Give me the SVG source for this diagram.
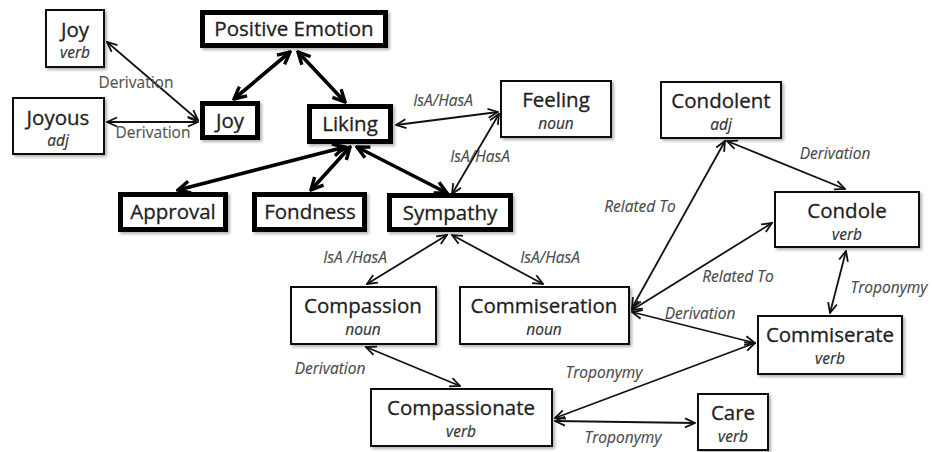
<svg xmlns="http://www.w3.org/2000/svg" width="932" height="452" viewBox="0 0 932 452">
  <style>
    .box { fill: #fff; stroke: #111; stroke-width: 2; filter: url(#shadow); }
    .bold { fill: #fff; stroke: #000; stroke-width: 5; filter: url(#shadow); }
    .name { font-family: "Open Sans", "Liberation Sans", sans-serif; font-size: 20.5px; fill: #1e1e1e; stroke: #1e1e1e; stroke-width: 0.3; text-anchor: middle; }
    .pos { font-family: "Open Sans", "Liberation Sans", sans-serif; font-size: 15.5px; font-style: italic; fill: #333; stroke: #333; stroke-width: 0.2; text-anchor: middle; }
    .rel { font-family: "Open Sans", "Liberation Sans", sans-serif; font-size: 15.5px; font-style: italic; fill: #4a4a4a; stroke: #4a4a4a; stroke-width: 0.15; text-anchor: middle; }
    .rel.up { font-style: normal; fill: #555; }
    .thin { stroke: #111; stroke-width: 1.8; fill: none; marker-start: url(#tip); marker-end: url(#tip); }
    .thick { stroke: #000; stroke-width: 3.6; fill: none; marker-start: url(#tipBold); marker-end: url(#tipBold); }
  </style>
  <defs>
    <filter id="shadow" x="-10%" y="-10%" width="125%" height="130%">
      <feDropShadow dx="2" dy="2" stdDeviation="1.5" flood-color="#000" flood-opacity="0.3"/>
    </filter>
    <marker id="tip" viewBox="0 0 12 12" refX="11" refY="6" markerWidth="12" markerHeight="12" markerUnits="userSpaceOnUse" orient="auto-start-reverse">
      <path d="M1,1.5 L11,6 L1,10.5" fill="none" stroke="#111" stroke-width="1.8"/>
    </marker>
    <marker id="tipBold" viewBox="0 0 16 16" refX="14" refY="8" markerWidth="16" markerHeight="16" markerUnits="userSpaceOnUse" orient="auto-start-reverse">
      <path d="M2,2 L14,8 L2,14" fill="none" stroke="#000" stroke-width="3.4" stroke-linejoin="miter"/>
    </marker>
  </defs>

  <rect width="932" height="452" fill="#fff"/>

  <!-- connectors -->
  <g id="connectors">
    <line class="thin" x1="107" y1="42" x2="198" y2="120"/>
    <line class="thin" x1="107" y1="122" x2="198" y2="122"/>
    <line class="thick" x1="290" y1="52" x2="234" y2="99"/>
    <line class="thick" x1="298" y1="52" x2="345" y2="102"/>
    <line class="thick" x1="345" y1="147" x2="178" y2="190"/>
    <line class="thick" x1="350" y1="147" x2="311" y2="190"/>
    <line class="thick" x1="357" y1="147" x2="447" y2="193"/>
    <line class="thin" x1="396" y1="125" x2="498" y2="112"/>
    <line class="thin" x1="499" y1="114" x2="452" y2="194"/>
    <line class="thin" x1="447" y1="235" x2="367" y2="284"/>
    <line class="thin" x1="452" y1="235" x2="543" y2="284"/>
    <line class="thin" x1="366" y1="347" x2="460" y2="386"/>
    <line class="thin" x1="555" y1="418" x2="755" y2="343"/>
    <line class="thin" x1="555" y1="421" x2="695" y2="423"/>
    <line class="thin" x1="632" y1="312" x2="755" y2="343"/>
    <line class="thin" x1="632" y1="310" x2="772" y2="223"/>
    <line class="thin" x1="632" y1="308" x2="725" y2="141"/>
    <line class="thin" x1="727" y1="141" x2="845" y2="189"/>
    <line class="thin" x1="846" y1="251" x2="830" y2="313"/>
  </g>

  <!-- connector labels -->
  <g id="labels">
    <text class="rel up" x="136" y="88">Derivation</text>
    <text class="rel up" x="153" y="138">Derivation</text>
    <text class="rel" x="443" y="106">IsA/HasA</text>
    <text class="rel" x="480" y="162">IsA/HasA</text>
    <text class="rel" x="355" y="263">IsA /HasA</text>
    <text class="rel" x="550" y="263">IsA/HasA</text>
    <text class="rel" x="330" y="374">Derivation</text>
    <text class="rel" x="604" y="378">Troponymy</text>
    <text class="rel" x="623" y="443">Troponymy</text>
    <text class="rel" x="700" y="319">Derivation</text>
    <text class="rel" x="738" y="282">Related To</text>
    <text class="rel" x="640" y="212">Related To</text>
    <text class="rel" x="835" y="159">Derivation</text>
    <text class="rel" x="889" y="293">Troponymy</text>
  </g>

  <!-- nodes -->
  <g id="joy-verb">
    <rect class="box" x="46" y="10" width="58" height="57"/>
    <text class="name" x="75" y="37">Joy</text>
    <text class="pos" x="75" y="58">verb</text>
  </g>
  <g id="joyous-adj">
    <rect class="box" x="13" y="98" width="91" height="56"/>
    <text class="name" x="58" y="125">Joyous</text>
    <text class="pos" x="58" y="146">adj</text>
  </g>
  <g id="positive-emotion">
    <rect class="bold" x="202.5" y="12.5" width="183" height="33"/>
    <text class="name" x="294" y="36">Positive Emotion</text>
  </g>
  <g id="joy">
    <rect class="bold" x="202.5" y="103.5" width="55" height="34"/>
    <text class="name" x="230" y="128">Joy</text>
  </g>
  <g id="liking">
    <rect class="bold" x="309.5" y="106.5" width="81" height="35"/>
    <text class="name" x="350" y="131">Liking</text>
  </g>
  <g id="feeling-noun">
    <rect class="box" x="501" y="81" width="110" height="56"/>
    <text class="name" x="556" y="107">Feeling</text>
    <text class="pos" x="556" y="129">noun</text>
  </g>
  <g id="approval">
    <rect class="bold" x="120.5" y="194.5" width="105" height="35"/>
    <text class="name" x="173" y="219">Approval</text>
  </g>
  <g id="fondness">
    <rect class="bold" x="254.5" y="194.5" width="110" height="35"/>
    <text class="name" x="310" y="219">Fondness</text>
  </g>
  <g id="sympathy">
    <rect class="bold" x="389.5" y="195.5" width="121" height="34"/>
    <text class="name" x="450" y="220">Sympathy</text>
  </g>
  <g id="condolent-adj">
    <rect class="box" x="661" y="82" width="120" height="56"/>
    <text class="name" x="721" y="108">Condolent</text>
    <text class="pos" x="721" y="130">adj</text>
  </g>
  <g id="condole-verb">
    <rect class="box" x="775" y="192" width="144" height="55"/>
    <text class="name" x="847" y="218">Condole</text>
    <text class="pos" x="847" y="240">verb</text>
  </g>
  <g id="compassion-noun">
    <rect class="box" x="291" y="287" width="145" height="57"/>
    <text class="name" x="363" y="313">Compassion</text>
    <text class="pos" x="363" y="335">noun</text>
  </g>
  <g id="commiseration-noun">
    <rect class="box" x="460" y="287" width="169" height="57"/>
    <text class="name" x="544" y="313">Commiseration</text>
    <text class="pos" x="544" y="335">noun</text>
  </g>
  <g id="compassionate-verb">
    <rect class="box" x="371" y="389" width="181" height="57"/>
    <text class="name" x="461" y="415">Compassionate</text>
    <text class="pos" x="461" y="437">verb</text>
  </g>
  <g id="commiserate-verb">
    <rect class="box" x="758" y="316" width="144" height="58"/>
    <text class="name" x="830" y="342">Commiserate</text>
    <text class="pos" x="830" y="364">verb</text>
  </g>
  <g id="care-verb">
    <rect class="box" x="698" y="394" width="70" height="56"/>
    <text class="name" x="733" y="420">Care</text>
    <text class="pos" x="733" y="442">verb</text>
  </g>
</svg>
